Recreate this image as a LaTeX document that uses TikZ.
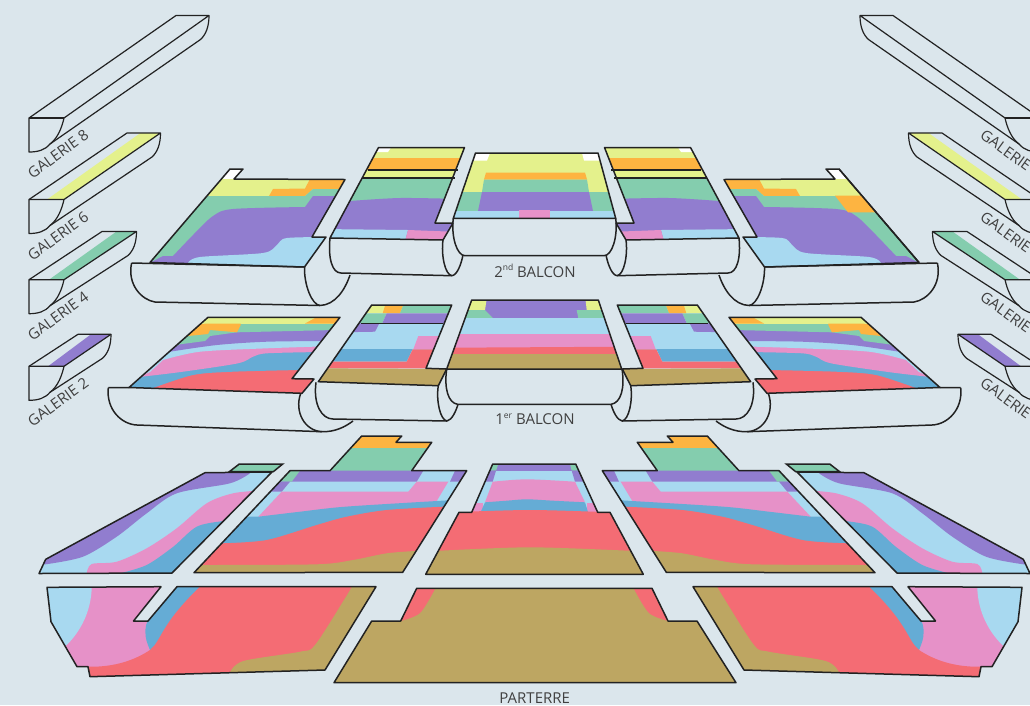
\documentclass[tikz,border=0pt]{standalone}
\usepackage{fontspec}
\setmainfont{Open Sans}
\usepackage{tikz}
\definecolor{salle}{HTML}{DBE6EC}
\definecolor{trait}{HTML}{222222}
\definecolor{jaune}{HTML}{E4F18C}
\definecolor{orange}{HTML}{FDB441}
\definecolor{vert}{HTML}{84CDAE}
\definecolor{violet}{HTML}{917DCF}
\definecolor{ciel}{HTML}{A8D9F0}
\definecolor{rose}{HTML}{E691C8}
\definecolor{bleu}{HTML}{65ACD5}
\definecolor{rouge}{HTML}{F46C74}
\definecolor{ocre}{HTML}{BDA662}
\newcommand{\exposant}[1]{\raisebox{0.42em}{\fontsize{8.5}{9}\selectfont #1}}
\newcommand{\seatblock}[2]{%
  \begin{scope}\clip #1;#2\end{scope}
  \draw[bord] #1;}
\newcommand{\galeriebox}[6]{%
  \fill[#6] (#5,#1) -- (64,#1) -- (#3,#4) -- ({#3-20},#4) -- cycle;
  \draw[mince] (29,#1) -- (#2,#4) -- (#3,#4) -- (64,#1);
  \draw[mince] (64,#1) .. controls (62,{#1+9}) and (58,{#1+20}) .. (50,{#1+26})
     .. controls (45,{#1+32}) and (38,{#1+34}) .. (29,{#1+34}) -- (29,#1) -- (64,#1);
  \draw[mince] (50,{#1+26}) -- ({#3-8.5},{#4+24})
     .. controls ({#3-3},{#4+19}) and (#3,{#4+11}) .. (#3,#4);
  \draw[bord] (29,#1) -- (64,#1);}
\newcommand{\sidehalf}{%
  \galeriebox{118}{176}{209}{15.5}{64}{salle}
  \galeriebox{199.5}{127}{160.5}{133}{47}{jaune}
  \galeriebox{279.7}{102}{136.5}{231.5}{49}{vert}
  \galeriebox{366.3}{78}{111}{334.3}{48}{violet}
  % 2e balcon, cote
  \seatblock{(230,169) -- (243,169) -- (234,179) -- (345,179.5) -- (312,237) -- (326,237) -- (304.5,267) -- (150,262.5) -- cycle}{
    \fill[jaune] (140,160) rectangle (350,196);
    \fill[white] (215,160) rectangle (250,179);
    \fill[orange] (350,179) -- (310,179) -- (305,188.5) -- (273,189) -- (269,196) -- (305,196) -- (313,189) -- (350,189) -- cycle;
    \fill[vert] (140,196) -- (305,196) -- (313,189) -- (350,189) -- (350,270) -- (140,270) -- cycle;
    \fill[violet] (140,268) -- (163,256) -- (173,256) -- plot[smooth] coordinates {(173,256) (193,235) (213,216) (233,209) (305,207)} -- (313,196) -- (350,196) -- (350,270) -- cycle;
    \fill[ciel] (180,270) -- (188,263) -- plot[smooth] coordinates {(188,263) (200,257) (263,253) (277,245) (287,238) (335,237)} -- (340,270) -- cycle;}
  \draw[bord] (131.6,263) -- (304.5,267);
  \draw[bord] (131.6,263) .. controls (127,285) and (142,300) .. (155,302) -- (320,305.5);
  \draw[bord] (304.5,267) .. controls (304,285) and (312,305) .. (320,305.5)
     .. controls (335,305) and (345,290) .. (350,275);
  \seatblock{(378.5,147.5) -- (464.5,147.5) -- (435,223) -- (453,223) -- (443,240) -- (330,238) -- cycle}{
    \fill[jaune] (320,140) rectangle (470,178);
    \fill[white] (378.5,147.5) -- (391,147.5) -- (388,152) -- (370,152) -- cycle;
    \fill[orange] (360,158) rectangle (470,170);
    \fill[vert] (320,178) rectangle (470,210);
    \fill[violet] (320,202) -- plot[smooth] coordinates {(350,201) (400,198) (460,199)} -- (470,245) -- (320,245) -- cycle;
    \fill[ciel] (320,229) -- (408,230) -- (404,245) -- (320,245) -- cycle;
    \fill[rose] (408,230) -- (460,232) -- (460,245) -- (404,245) -- cycle;}
  \draw[bord] (368,170) -- (458,170) (362,178) -- (455,178);
  \draw[bord] (330,238) .. controls (328,258) and (332,273) .. (341,273) -- (452,275.7);
  \draw[bord] (443,240) .. controls (441,255) and (445,275) .. (452,275.7)
     .. controls (457,275) and (461,265) .. (463,255);
  % 1er balcon, cote
  \seatblock{(208,317.3) -- (340,317.3) -- (292,378.7) -- (314,379) -- (302,393.3) -- (129,387.5) -- cycle}{
    \fill[rouge] (100,300) rectangle (350,400);
    \fill[bleu] (100,392) -- (153,388) -- plot[smooth] coordinates {(153,388) (193,375) (233,371.7) (300,370)} -- (350,300) -- (100,300) -- cycle;
    \fill[rose] (100,392) -- (129,387) -- plot[smooth] coordinates {(141.7,376.7) (183,371.7) (238,363.3) (253,356.7) (267,353.3) (320,352)} -- (350,300) -- (100,300) -- cycle;
    \fill[ciel] (100,392) -- (150,372) -- plot[smooth] coordinates {(163,360) (200,351.7) (267,348.3) (320,346.5)} -- (350,300) -- (100,300) -- cycle;
    \fill[violet] (100,380) -- plot[smooth] coordinates {(170,351.7) (217,345) (267,341.7) (330,341)} -- (350,300) -- (100,300) -- cycle;
    \fill[vert] (100,380) -- (180,344.3) -- (205,341) -- (210,336) -- (237,332.3) -- (335,330) -- (350,300) -- (100,300) -- cycle;
    \fill[orange] (170,340) -- (188,336) -- (208,334) -- (210,330) -- (237,332.3) -- (240.7,325) -- (240,323) -- (190,323) -- cycle;
    \fill[jaune] (180,310) rectangle (350,323.5);
    \fill[orange] (305,323.5) -- (315,318) -- (345,316) -- (345,323.5) -- cycle;
    \fill[orange] (240.7,323.5) -- (240,325.5) -- (200,326) -- (205,323.5) -- cycle;}
  \draw[bord] (108.3,387.7) -- (129,387.5);
  \draw[bord] (108.3,387.7) .. controls (106,410) and (122,424.5) .. (137,425) -- (322,431.7);
  \draw[bord] (300.7,393.3) .. controls (294,412) and (305,431) .. (322,431.7)
     .. controls (335,432) and (345,427) .. (353,421);
  \seatblock{(371.7,305) -- (451.7,305) -- (426,368.3) -- (446.7,369) -- (438.3,385.7) -- (318.3,381.7) -- cycle}{
    \fill[jaune] (340,300) rectangle (460,313.3);
    \fill[orange] (386.7,300) -- (405.3,300) -- (400,313.3) -- (382.7,313.3) -- cycle;
    \fill[vert] (405.3,300) -- (460,300) -- (460,313.3) -- (400,313.3) -- cycle;
    \fill[vert] (350,313.3) -- (386.7,313.3) -- (382.3,323.3) -- (350,323.3) -- cycle;
    \fill[violet] (386.7,313.3) -- (460,313.3) -- (460,323.3) -- (382.3,323.3) -- cycle;
    \fill[ciel] (310,323.3) rectangle (460,350);
    \fill[violet] (340,323.3) -- (379.3,323.3) -- (375,331.7) -- (340,332.3) -- cycle;
    \fill[rose] (418.3,336) -- (450,336) -- (450,349.3) -- (413.3,349.3) -- cycle;
    \fill[bleu] (320,349) -- (412.7,349) -- (406.7,361.7) -- (320,361.7) -- cycle;
    \fill[rouge] (320,361.7) -- (406.7,361.7) -- (412.7,349.3) -- (450,349.3) -- (450,368.3) -- (320,368.3) -- cycle;
    \fill[ocre] (310,368.3) -- (450,369) -- (450,390) -- (310,390) -- cycle;}
  \draw[bord] (361,323.3) -- (443.3,323.3);
  \draw[bord] (316,382.3) .. controls (313,405) and (322,419) .. (333,419) -- (447,421);
  \draw[bord] (438.3,385.7) .. controls (436,400) and (440,420) .. (447,421)
     .. controls (452,420) and (456,411) .. (458,404.3);
  % parterre, cote
  \fill[vert,draw=trait,line width=1.5pt] (229.3,471.7) -- (239.3,464) -- (282.7,464) -- (273.3,471.7) -- cycle;
  \seatblock{(205,472.7) -- (272,472) -- (172,573) -- (39,573.5) -- (45.7,559.3) -- cycle}{
    \fill[ciel] (30,460) rectangle (280,580);
    \fill[violet] (30,565) -- plot[smooth] coordinates {(45.7,564.3) (83,556.7) (116.7,536.7) (146.7,513.3) (176.7,493.3) (230,483.3) (250,473.3)} -- (255,465) -- (30,465) -- cycle;
    \fill[rose] (85,580) -- plot[smooth] coordinates {(86.7,573.3) (91.7,564) (116.7,561.7) (146.7,548.3) (176.7,528.3) (206.7,503.3) (233,493.3) (260,490.5)} -- (280,480) -- (280,580) -- cycle;
    \fill[bleu] (115,580) -- plot[smooth] coordinates {(120,573.3) (146.7,565) (173.3,546.7) (196.7,526.7) (223.3,521) (245,519)} -- (280,500) -- (280,580) -- cycle;}
  \seatblock{(194,572.7) -- (290,470.7) -- (330,470.7) -- (361.7,436) -- (401.7,436) -- (396,442.3) -- (431.7,442.3) -- (411.7,470.7) -- (466.7,470.7) -- (402.7,572.3) -- cycle}{
    \fill[ciel] (190,430) rectangle (470,580);
    \fill[orange] (340,430) rectangle (440,447.5);
    \fill[vert] (320,447.5) rectangle (440,471);
    \fill[violet] (280,470.7) -- (423.3,470.7) -- (416.7,481.7) -- (280,481.7) -- cycle;
    \fill[violet] (455,470.7) -- (470,470.7) -- (470,481.7) -- (450,481.7) -- cycle;
    \fill[vert] (285,470.7) -- (300,470.7) -- (291.7,481.7) -- (275,481.7) -- cycle;
    \fill[violet] (275,481.7) -- (290,481.7) -- (281.7,491.7) -- (265,491.7) -- cycle;
    \fill[rose] (258.3,516.7) -- (281.7,491.7) -- (408.3,491.7) -- (416.7,481.7) -- (448.3,481.7) -- (436.7,501) -- (436.7,520) -- (258.3,520) -- cycle;
    \fill[bleu] (200,516.7) -- (258.3,516.7) -- plot[smooth] coordinates {(258.3,516.7) (300,511.7) (345,506.7) (436.7,501) (470,499)} -- (470,600) -- (150,600) -- cycle;
    \fill[rouge] (150,543.3) -- plot[smooth] coordinates {(221.7,543.3) (266.7,540) (316.7,525) (346.7,516.7) (386.7,510) (443.3,506.7)} -- (480,506) -- (480,600) -- (150,600) -- cycle;
    \fill[ocre] (190,565) -- plot[smooth] coordinates {(203,565) (316.7,564.3) (353,560) (386.7,553.3) (415,551)} -- (470,550) -- (470,600) -- (150,600) -- cycle;}
  \seatblock{(47,587.3) -- (161,586.7) -- (133.5,621) -- (148,621) -- (177,586.7) -- (376,586.7) -- (325,670) -- (90,676.7) -- (88,666.7) -- (77,666.7) -- (51,621.7) -- cycle}{
    \fill[rose] (40,580) rectangle (380,680);
    \fill[ciel] (40,580) -- (91.7,580) -- (91.7,588) .. controls (91,612) and (80,632) .. (66.7,645) -- (40,660) -- cycle;
    \fill[bleu] (170,580) -- (205,580) -- (150,655) -- plot[smooth] coordinates {(150,650) (145.7,636.7) (148,620) (170,590)} -- cycle;
    \fill[rouge] (80,680) -- (88,666.7) -- (90,666.7) .. controls (115,667) and (135,660) .. (150,650) .. controls (162,640) and (160,625) .. (200,586.7) -- (205,580) -- (380,580) -- (380,680) -- cycle;
    \fill[ocre] (225,680) -- plot[smooth] coordinates {(230,672.3) (243.3,661) (300,651.7) (315,645) (345,598.3) (351.7,587)} -- (355,580) -- (380,580) -- (380,680) -- cycle;}
}
\begin{document}
\begin{tikzpicture}[
  x=1pt, y=-1pt,
  bord/.style={draw=trait, line width=1.5pt, line join=round},
  mince/.style={draw=trait, line width=1.2pt, line join=round},
  titre/.style={text=black!75, font=\fontsize{15}{16}\selectfont, inner sep=0pt}
]
  \useasboundingbox (0,0) rectangle (1030,705);
  \clip (0,0) rectangle (1030,705);
  \fill[salle] (0,0) rectangle (1030,705);
  \sidehalf
  \begin{scope}[xshift=1069pt, xscale=-1]
    \sidehalf
    \begin{scope}
      \clip (230,169) -- (345,179.5) -- (304.5,267) -- (150,262.5) -- cycle;
      \fill[orange] (234,195.7) -- (207.3,195.7) -- (194,212.3) -- (221,212.3) -- cycle;
    \end{scope}
    \draw[bord] (230,169) -- (150,262.5);
  \end{scope}
  % 2e balcon, centre
  \seatblock{(475.5,153) -- (598,153) -- (615.7,218.3) -- (453.3,218.3) -- cycle}{
    \fill[jaune] (450,150) rectangle (620,192);
    \fill[white] (476,153) -- (490,153) -- (487,160.5) -- (470,160.5) -- cycle;
    \fill[white] (582,153) -- (600,153) -- (602,160.5) -- (584,160.5) -- cycle;
    \fill[orange] (486,172.5) -- (585,172.5) -- (587,179.5) -- (484,179.5) -- cycle;
    \fill[vert] (484,179.5) -- (587,179.5) -- (589,192) -- (482,192) -- cycle;
    \fill[vert] (450,192) rectangle (620,212);
    \fill[violet] (482,192) -- (589,192) -- (593,211) -- (478,211) -- cycle;
    \fill[ciel] (450,211) rectangle (620,220);
    \fill[rose] (519,210) rectangle (550,220);}
  \draw[bord] (453.3,218.3) .. controls (451,237) and (457,255.7) .. (465,255.7) -- (604,255.7) .. controls (612,255.7) and (618,237) .. (615.7,218.3);
  % 1er balcon, centre
  \seatblock{(471.7,300) -- (598.3,300) -- (621.7,369) -- (446.7,369) -- cycle}{
    \fill[violet] (480,295) rectangle (590,319);
    \fill[jaune] (465,295) -- (487.3,295) -- (485,310) -- (465,310) -- cycle;
    \fill[jaune] (585,295) -- (605,295) -- (605,310) -- (586.7,310) -- cycle;
    \fill[vert] (460,310) -- (485,310) -- (493.3,318.3) -- (460,318.3) -- cycle;
    \fill[vert] (576.7,310) -- (610,310) -- (610,318.3) -- (578.3,318.3) -- cycle;
    \fill[ciel] (450,318.3) rectangle (620,335);
    \fill[rose] (450,334.3) rectangle (625,350);
    \fill[rouge] (450,347.7) -- (625,346.7) -- (625,355) -- (450,355) -- cycle;
    \fill[ocre] (440,354.3) rectangle (630,370);}
  \draw[bord] (446.7,369) .. controls (444,388) and (448,403) .. (457.7,404.3) -- (611,404.3) .. controls (621,403) and (625,388) .. (622,369);
  % parterre, centre
  \seatblock{(492.7,464) -- (575.7,464) -- (597.7,512.3) -- (610,512.3) -- (643.3,574.3) -- (425.7,574.3) -- (459,512.3) -- (471.7,512.3) -- cycle}{
    \fill[ciel] (470,460) rectangle (600,515);
    \fill[violet] (490,464) rectangle (580,470.7);
    \fill[vert] (485,464) -- (498.3,464) -- (496,470.7) -- (485,470.7) -- cycle;
    \fill[vert] (570,464) -- (580,464) -- (580,470.7) -- (571.7,470.7) -- cycle;
    \fill[violet] (485,470.7) -- (496,470.7) -- (492.7,481.7) -- (480,481.7) -- cycle;
    \fill[violet] (571.7,470.7) -- (585,470.7) -- (585,481.7) -- (575,481.7) -- cycle;
    \fill[rose] (485,502.3) -- (492.7,481.7) -- plot[smooth] coordinates {(492.7,481.7) (526.7,479.3) (575,481.7)} -- (585,502.3) -- cycle;
    \fill[rose] (470,503) rectangle (483.3,512);
    \fill[rose] (587,503) rectangle (600,512);
    \fill[bleu] (480.7,512) -- (485,502.3) -- plot[smooth] coordinates {(485,502.3) (506.7,500.7) (526.7,499.3) (553.3,500.7) (585,502.3)} -- (588,512) -- cycle;
    \fill[rouge] (420,580) -- (450,512.3) -- plot[smooth] coordinates {(450,512.3) (530,510) (610,512.3)} -- (650,580) -- cycle;
    \fill[ocre] (420,580) -- (420,551) -- plot[smooth] coordinates {(440,550.7) (530,547.3) (628.3,550.7)} -- (650,551) -- (650,580) -- cycle;}
  \seatblock{(416.7,588.3) -- (652,588.3) -- (668,621) -- (697,621) -- (736,682.7) -- (334,682.7) -- (371.7,621) -- (400.7,621) -- cycle}{
    \fill[ocre] (330,585) rectangle (740,685);
    \fill[rouge] (410,585) -- (435.5,585) -- plot[smooth] coordinates {(435,589) (420,613) (400.7,621)} -- cycle;
    \fill[rouge] (660,585) -- (633.5,585) -- plot[smooth] coordinates {(634,589) (649,613) (668.3,621)} -- cycle;}
  \foreach \nom/\posy in {8/154,6/236,4/316,2/402}{
    \node[titre,rotate=36] (galg\nom) at (58,\posy) {GALERIE \nom};
    \node[titre,rotate=-36] (gald\nom) at (1011,\posy) {GALERIE \nom};
  }
  \node[titre] (balcon2) at (535,270.7) {2\exposant{nd} BALCON};
  \node[titre] (balcon1) at (535,419) {1\exposant{er} BALCON};
  \node[titre] (parterre) at (534.7,698.3) {PARTERRE};
\end{tikzpicture}
\end{document}
